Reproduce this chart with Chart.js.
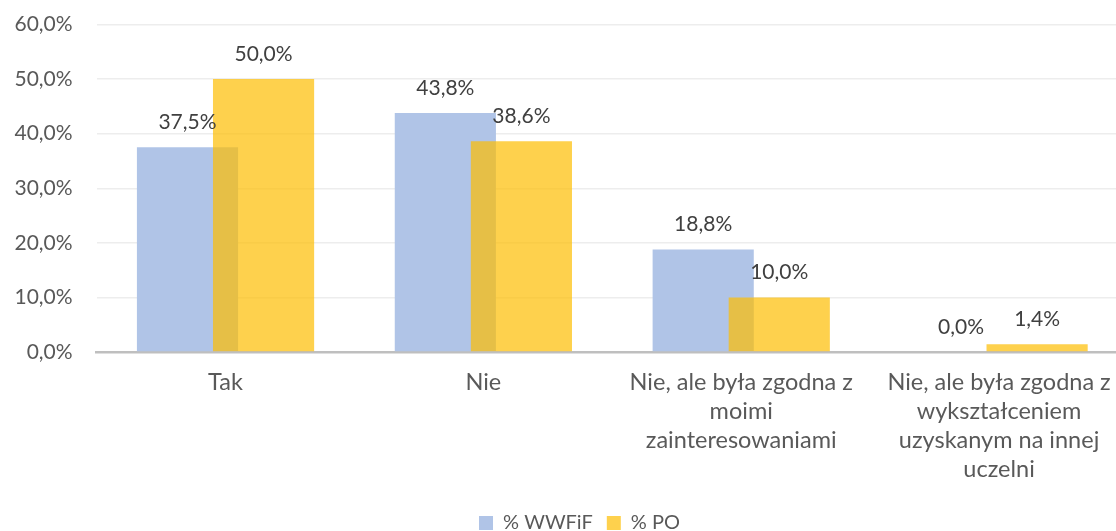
<!DOCTYPE html>
<html>
<head>
<meta charset="utf-8">
<script src="https://cdn.jsdelivr.net/npm/chart.js@4/dist/chart.umd.min.js"></script>
<style>
  html, body { margin: 0; padding: 0; background: #ffffff; overflow: hidden; width: 1116px; height: 531px; }
  #wrap { position: absolute; left: 0; top: 0; width: 1140px; height: 547px; }
  canvas { display: block; }
</style>
</head>
<body>
<div id="wrap"><canvas id="c" width="1140" height="547"></canvas></div>
<script>
const categories = [
  ["Tak"],
  ["Nie"],
  ["Nie, ale była zgodna z", "moimi", "zainteresowaniami"],
  ["Nie, ale była zgodna z", "wykształceniem", "uzyskanym na innej", "uczelni"]
];
const seriesNames = ["% WWFiF", "% PO"];
const wwfifValues = [37.5, 43.8, 18.8, 0.0];
const poValues = [50.0, 38.6, 10.0, 1.4];
const yMin = 0, yMax = 60, yStep = 10;

const FONT = 'Lato, "Open Sans", sans-serif';
const fmt = v => v.toFixed(1).replace('.', ',') + '%';

const drawOrderPlugin = {
  id: 'drawOrder',
  beforeDatasetsDraw(chart) {
    const ctx = chart.ctx, a = chart.chartArea;
    ctx.save();
    ctx.beginPath();
    ctx.rect(a.left, a.top - 40, a.right - a.left, a.bottom - a.top + 40);
    ctx.clip();
    for (let i = 0; i < chart.data.datasets.length; i++) {
      const meta = chart.getDatasetMeta(i);
      if (!meta.hidden) meta.controller.draw();
    }
    ctx.restore();
    return false;
  }
};

const legendShiftPlugin = {
  id: 'legendShift',
  afterLayout(chart) {
    const lg = chart.legend;
    if (lg) {
      lg.left += 15.5; lg.right += 15.5;
      lg.top -= 4; lg.bottom -= 4;
    }
  }
};

const labelPlugin = {
  id: 'valueLabels',
  afterDraw(chart) {
    const ctx = chart.ctx;
    ctx.save();
    ctx.font = '21px ' + FONT;
    ctx.fillStyle = '#404040';
    ctx.textAlign = 'center';
    ctx.textBaseline = 'alphabetic';
    chart.data.datasets.forEach((ds, i) => {
      const meta = chart.getDatasetMeta(i);
      meta.data.forEach((bar, j) => {
        ctx.fillText(fmt(ds.data[j]), bar.x, bar.y - 18);
      });
    });
    ctx.restore();
  }
};

new Chart(document.getElementById('c'), {
  type: 'bar',
  data: {
    labels: categories,
    datasets: [
      {
        label: seriesNames[0],
        data: wwfifValues,
        backgroundColor: '#B0C4E7',
        borderWidth: 0,
        categoryPercentage: 0.59,
        barPercentage: 1.33
      },
      {
        label: seriesNames[1],
        data: poValues,
        backgroundColor: 'rgba(253,189,1,0.7)',
        borderWidth: 0,
        categoryPercentage: 0.59,
        barPercentage: 1.33
      }
    ]
  },
  plugins: [drawOrderPlugin, legendShiftPlugin, labelPlugin],
  options: {
    responsive: false,
    animation: false,
    devicePixelRatio: 1,
    layout: { padding: { top: 24.5, left: 0, right: 12, bottom: 0 } },
    plugins: {
      tooltip: { enabled: false },
      legend: {
        position: 'bottom',
        labels: {
          boxWidth: 14,
          boxHeight: 14,
          padding: 14,
          color: '#595959',
          font: { family: FONT, size: 20 }
        }
      }
    },
    scales: {
      x: {
        grid: { display: false, drawTicks: false },
        border: { display: true, color: '#BFBFBF', width: 2.5 },
        ticks: {
          color: '#595959',
          font: { family: FONT, size: 23.5, lineHeight: 1.234 },
          padding: 15.5,
          maxRotation: 0,
          autoSkip: false
        },
        afterFit(scale) { scale.height = 151; scale.paddingLeft = 0; scale.paddingRight = 0; }
      },
      y: {
        min: yMin,
        max: yMax,
        grid: { color: '#EDEDED', lineWidth: 1.5, drawTicks: false },
        border: { display: false },
        ticks: {
          stepSize: yStep,
          color: '#595959',
          font: { family: FONT, size: 21 },
          padding: 24,
          callback: v => fmt(v)
        },
        afterFit(scale) { scale.width = 96.6; scale.paddingTop = 0; scale.paddingBottom = 0; }
      }
    }
  }
});
</script>
</body>
</html>
